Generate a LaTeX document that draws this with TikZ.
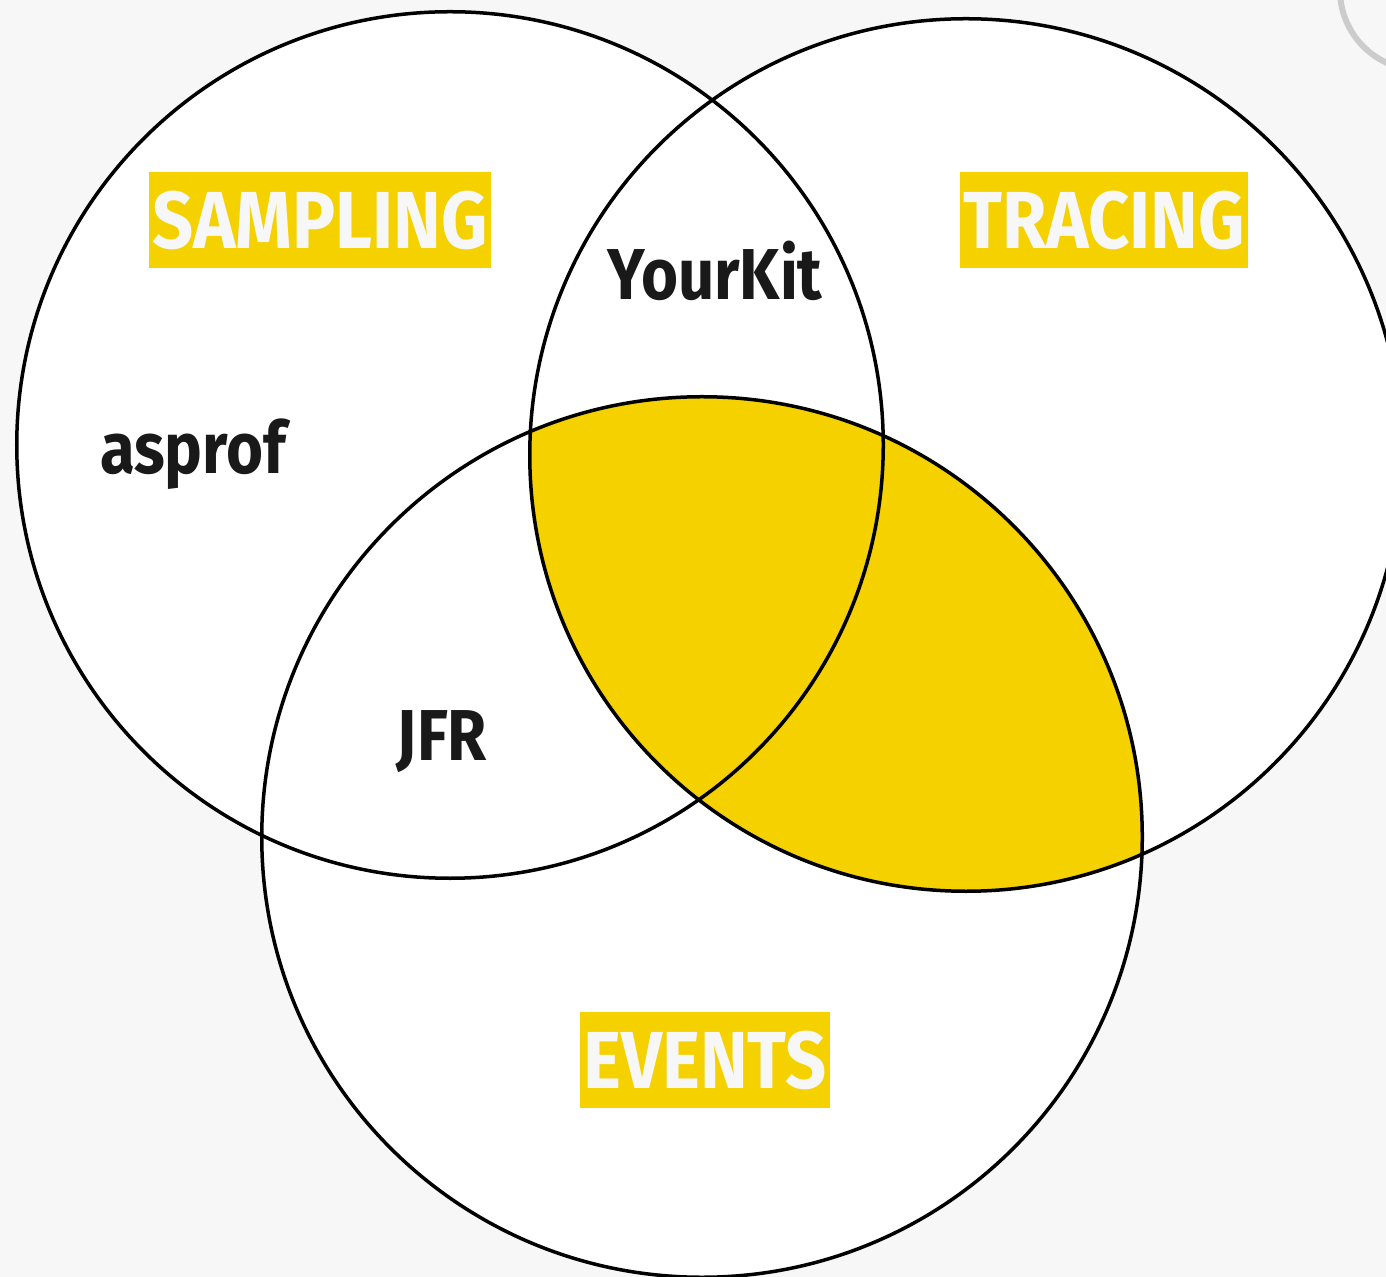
\documentclass[tikz,border=0pt]{standalone}
\usepackage{fontspec}
\setmainfont{Fira Sans}
\newfontfamily\condfont[FakeStretch=0.89]{Fira Sans}
\newfontfamily\toolfont[FakeStretch=0.88]{Fira Sans}
\definecolor{vennyellow}{HTML}{F5D100}
\definecolor{pagegray}{HTML}{F7F7F7}
\begin{document}
\begin{tikzpicture}[x=0.01cm,y=-0.01cm,line join=round,line cap=round,
	ring/.style={line width=0.035cm},
	tag/.style={fill=vennyellow,text=pagegray,inner xsep=0.03cm,inner ysep=0.2cm,
		text height=0.56cm,text depth=0pt,font=\condfont\bfseries\fontsize{23}{23}\selectfont},
	tool/.style={text=black!90,anchor=base,font=\toolfont\bfseries\fontsize{20.5}{21}\selectfont}]
	\fill[pagegray] (0,0) rectangle (1386,1277);
	\useasboundingbox (0,0) rectangle (1386,1277);
	\coordinate (sampling) at (450,445);
	\coordinate (tracing) at (966,455);
	\coordinate (events) at (702,837);
	\foreach \c/\r in {sampling/4.33cm,tracing/4.36cm,events/4.40cm}{
		\fill[white] (\c) circle[radius=\r];
	}
	\begin{scope}
		\clip (tracing) circle[radius=4.36cm];
		\fill[vennyellow] (events) circle[radius=4.40cm];
	\end{scope}
	\foreach \c/\r in {sampling/4.33cm,tracing/4.36cm,events/4.40cm}{
		\draw[ring] (\c) circle[radius=\r];
	}
	\begin{scope}
		\clip (0,0) rectangle (1386,1277);
		\draw[black!20,line width=0.06cm] (1420,-10) circle[radius=0.8cm];
	\end{scope}
	% set names
	\node[tag] (samplingtag) at (320,220) {SAMPLING};
	\node[tag] (tracingtag) at (1104,220) {TRACING};
	\node[tag] (eventstag) at (705,1060) {EVENTS};
	% tools
	\node[tool] (yourkit) at (715,300) {YourKit};
	\node[tool] (asprof) at (193,474) {asprof};
	\node[tool] (jfr) at (442,760) {JFR};
\end{tikzpicture}
\end{document}
